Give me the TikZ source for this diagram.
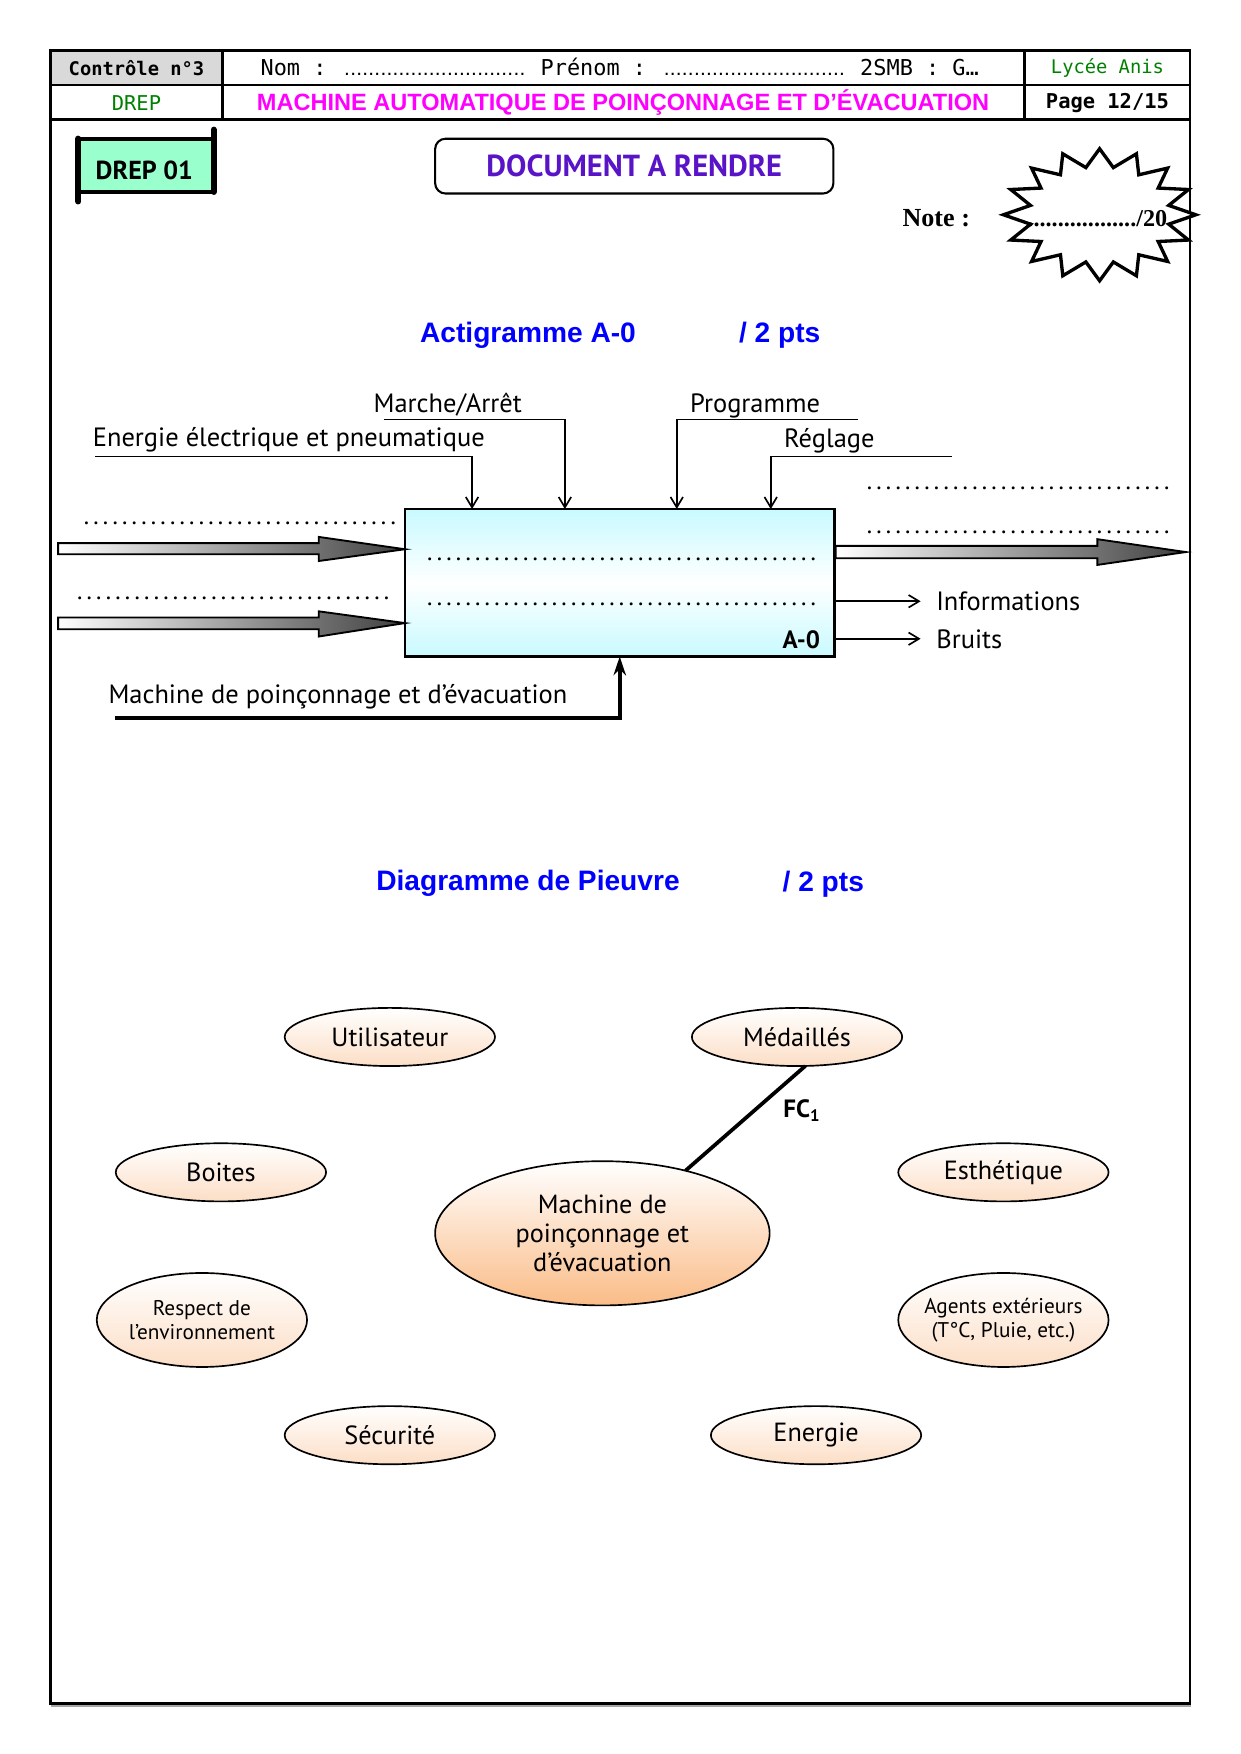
\documentclass[tikz,border=0pt]{standalone}
\usepackage{fontspec}
\usepackage{graphicx}
\setmainfont{PT Sans}
\newfontfamily\monof{DejaVu Sans Mono}
\newfontfamily\arialf{Liberation Sans}
\newfontfamily\timesf{Liberation Serif}
\usetikzlibrary{shapes.geometric,arrows.meta,calc}

\definecolor{hdrgray}{RGB}{217,217,217}
\definecolor{drepgreen}{RGB}{153,255,204}
\definecolor{docpurple}{RGB}{90,20,200}
\definecolor{lgreen}{RGB}{0,128,0}
\definecolor{titblue}{RGB}{0,0,255}
\definecolor{boxcyan}{RGB}{200,250,255}
\definecolor{peachL}{RGB}{252,222,198}
\definecolor{peachC}{RGB}{250,188,135}
\definecolor{magtitle}{RGB}{255,0,255}

\newcommand\dotrow[1]{\makebox[#1]{\leaders\hbox to 4.6pt{\hss.\hss}\hfill}}
\newcommand\hdrdots[1]{{\arialf\fontsize{10}{12}\selectfont\makebox[#1]{\leaders\hbox to 2.9pt{\hss.\hss}\hfill}}}

\begin{document}
\begin{tikzpicture}[x=0.5367pt, y=-0.5367pt,
  every node/.style={inner sep=0pt, outer sep=0pt},
  lbl/.style={font=\fontsize{12.7}{14}\selectfont, anchor=base west},
  hdr/.style={font=\monof\fontsize{9}{11}\selectfont},
  ctrl/.style={line width=0.8pt, -{Straight Barb[length=5pt,width=6pt]}},
  outarr/.style={line width=0.8pt, -{Straight Barb[length=5pt,width=6pt]}},
  support/.style={line width=2pt, -{Stealth[length=9pt,width=6pt]}},
  fatarrow/.style={draw=black, line width=0.9pt, left color=white, right color=black!75},
  pv/.style={ellipse, draw, line width=0.8pt, top color=white, bottom color=peachL,
    minimum width=100.9pt, minimum height=27.9pt, align=center, font=\fontsize{12.6}{14}\selectfont},
  pvtall/.style={pv, minimum height=45.1pt, inner sep=-4pt, font=\fontsize{10.2}{11.3}\selectfont},
  pvc/.style={pv, minimum width=160.5pt, minimum height=69.2pt, bottom color=peachC, font=\fontsize{12.6}{14}\selectfont},
  titre/.style={font=\arialf\bfseries\fontsize{13.5}{16}\selectfont, text=titblue},
  dotlbl/.style={anchor=base west, font=\fontsize{12}{14}\selectfont},
]
\fill[white] (0,0) rectangle (1109,1568);
\useasboundingbox (0,0) rectangle (1109,1568);

% ---------- header ----------
\fill[hdrgray] (45,45) rectangle (199,76);
\draw[black!35, line width=1.5pt] (46,1525) -- (1065,1525);
\draw[line width=1.2pt] (45,45) rectangle (1064,1523);
\draw[line width=1.2pt] (45,76) -- (1064,76);
\draw[line width=1.4pt] (45,107) -- (1064,107);
\draw[line width=1.2pt] (199,45) -- (199,107);
\draw[line width=1.2pt] (916,45) -- (916,107);

\node[font=\monof\bfseries\fontsize{9}{11}\selectfont] (hc) at (122,61) {Contrôle n°3};
\node[font=\monof\fontsize{10.5}{12}\selectfont, anchor=base west] (hnom) at (233,67.5)
  {Nom : \hdrdots{88pt} Prénom : \hdrdots{88pt} 2SMB : G…};
\node[hdr, text=lgreen] (hly) at (990,61) {Lycée Anis};
\node[font=\monof\fontsize{9.8}{11}\selectfont, text=lgreen] (hdrep) at (122,92) {DREP};
\node[font=\arialf\bfseries\fontsize{11.3}{13}\selectfont, text=magtitle] (htit) at (557,92)
  {MACHINE AUTOMATIQUE DE POINÇONNAGE ET D’ÉVACUATION};
\node[font=\monof\bfseries\fontsize{9.8}{11}\selectfont] (hpage) at (990,92) {Page 12/15};

% ---------- DREP 01 ----------
\draw[line width=2pt, fill=drepgreen] (70,124) rectangle (191,171.5);
\draw[line width=3pt, line cap=round] (70,124) -- (70,180);
\draw[line width=3pt, line cap=round] (191,116) -- (191,171.5);
\node[font=\bfseries\fontsize{12.5}{14}\selectfont] (drep) at (129,152) {DREP 01};

% ---------- document a rendre ----------
\node[draw, rounded corners=5pt, line width=1pt, minimum width=191.1pt, minimum height=26.3pt,
  font=\bfseries\fontsize{14.6}{18}\selectfont, text=docpurple] (doc) at (567,148.5) {DOCUMENT A RENDRE};

% ---------- note ----------
\node[font=\timesf\bfseries\fontsize{12.5}{14}\selectfont] (note) at (837,195) {Note :};
\draw[line width=1.6pt, fill=white] (983,133)
  \foreach \i in {0,...,15} {
    -- ({983+86*cos(90+\i*22.5)},{192-59*sin(90+\i*22.5)})
    -- ({983+63*cos(101.25+\i*22.5)},{192-43*sin(101.25+\i*22.5)})
  } -- cycle;
\node[font=\timesf\bfseries\fontsize{11.6}{14}\selectfont] (score) at (981,195) {................../20};

% ---------- Actigramme ----------
\node[titre] (t1) at (472,300) {Actigramme A-0};
\node[titre] (t1p) at (697,300) {/ 2 pts};

\node[draw, line width=1.2pt, minimum width=206.1pt, minimum height=70.8pt,
  top color=boxcyan, bottom color=boxcyan, middle color=white] (A0) at (554,521) {};
\node[dotlbl] (d1) at (380,501) {\dotrow{190pt}};
\node[dotlbl] (d2) at (380,541) {\dotrow{190pt}};
\node[anchor=base east, font=\bfseries\fontsize{12}{14}\selectfont] (a0lbl) at (733,580) {A-0};

% controls
\coordinate (eS) at (85,408);  \coordinate (eC) at (422,408);
\coordinate (mS) at (343,375); \coordinate (mC) at (505,375);
\coordinate (pS) at (767,375); \coordinate (pC) at (605,375);
\coordinate (rS) at (851,408); \coordinate (rC) at (689,408);
\draw[ctrl] (eS) -- (eC) -- (eC |- A0.north);
\draw[ctrl] (mS) -- (mC) -- (mC |- A0.north);
\draw[ctrl] (pS) -- (pC) -- (pC |- A0.north);
\draw[ctrl] (rS) -- (rC) -- (rC |- A0.north);
\node[lbl] (lE) at (83,399) {Energie électrique et pneumatique};
\node[lbl] (lM) at (334,369) {Marche/Arrêt};
\node[lbl] (lP) at (617,369) {Programme};
\node[lbl] (lR) at (701,400) {Réglage};

% inputs (fat arrows)
\draw[fatarrow] (52,485.5) -- (285,485.5) -- (285,480) -- (362,491) -- (285,501.5) -- (285,495.5) -- (52,495.5) -- cycle;
\draw[fatarrow] (52,552) -- (285,552) -- (285,546.5) -- (362,557) -- (285,569) -- (285,562.5) -- (52,562.5) -- cycle;
\node[dotlbl] (din1) at (73,469) {\dotrow{152pt}};
\node[dotlbl] (din2) at (67,536) {\dotrow{152pt}};

% output (fat arrow)
\draw[fatarrow] (747,488) -- (981,488) -- (981,482) -- (1060,493.5) -- (981,505) -- (981,499) -- (747,499) -- cycle;
\node[dotlbl] (dout1) at (773,438) {\dotrow{150pt}};
\node[dotlbl] (dout2) at (773,477) {\dotrow{150pt}};

% secondary outputs
\coordinate (infoE) at (823,537.5);
\coordinate (bruitE) at (823,571);
\draw[outarr] (infoE -| A0.east) -- (infoE);
\draw[outarr] (bruitE -| A0.east) -- (bruitE);
\node[lbl] (lI) at (837,546) {Informations};
\node[lbl] (lB) at (837,580) {Bruits};

% support
\coordinate (supS) at (103,642);
\draw[support] (supS) -| (A0.south);
\node[lbl] (lS) at (97,629) {Machine de poinçonnage et d’évacuation};

% ---------- Pieuvre ----------
\node[titre] (t2) at (472,790) {Diagramme de Pieuvre};
\node[titre] (t2p) at (736,790) {/ 2 pts};

\node[pv] (util) at (348.5,927) {Utilisateur};
\node[pv] (med) at (712.5,927) {Médaillés};
\node[pv] (boit) at (197.5,1048) {Boites};
\node[pv] (esth) at (897,1048) {Esthétique};
\node[pvc] (mach) at (538.5,1102.5) {Machine de\\poinçonnage et\\d’évacuation};
\node[pvtall] (resp) at (180.5,1180) {Respect de\\l’environnement};
\node[pvtall] (agent) at (897,1180) {Agents extérieurs\\(T°C, Pluie, etc.)};
\node[pv] (secu) at (348.5,1283) {Sécurité};
\node[pv] (ener) at (729.5,1283) {Energie};

\draw[line width=1.8pt] (med.-74) -- (mach.37);
\node[font=\bfseries\fontsize{12}{14}\selectfont] (fc1) at (717,993) {FC\textsubscript{1}};
\end{tikzpicture}
\end{document}
